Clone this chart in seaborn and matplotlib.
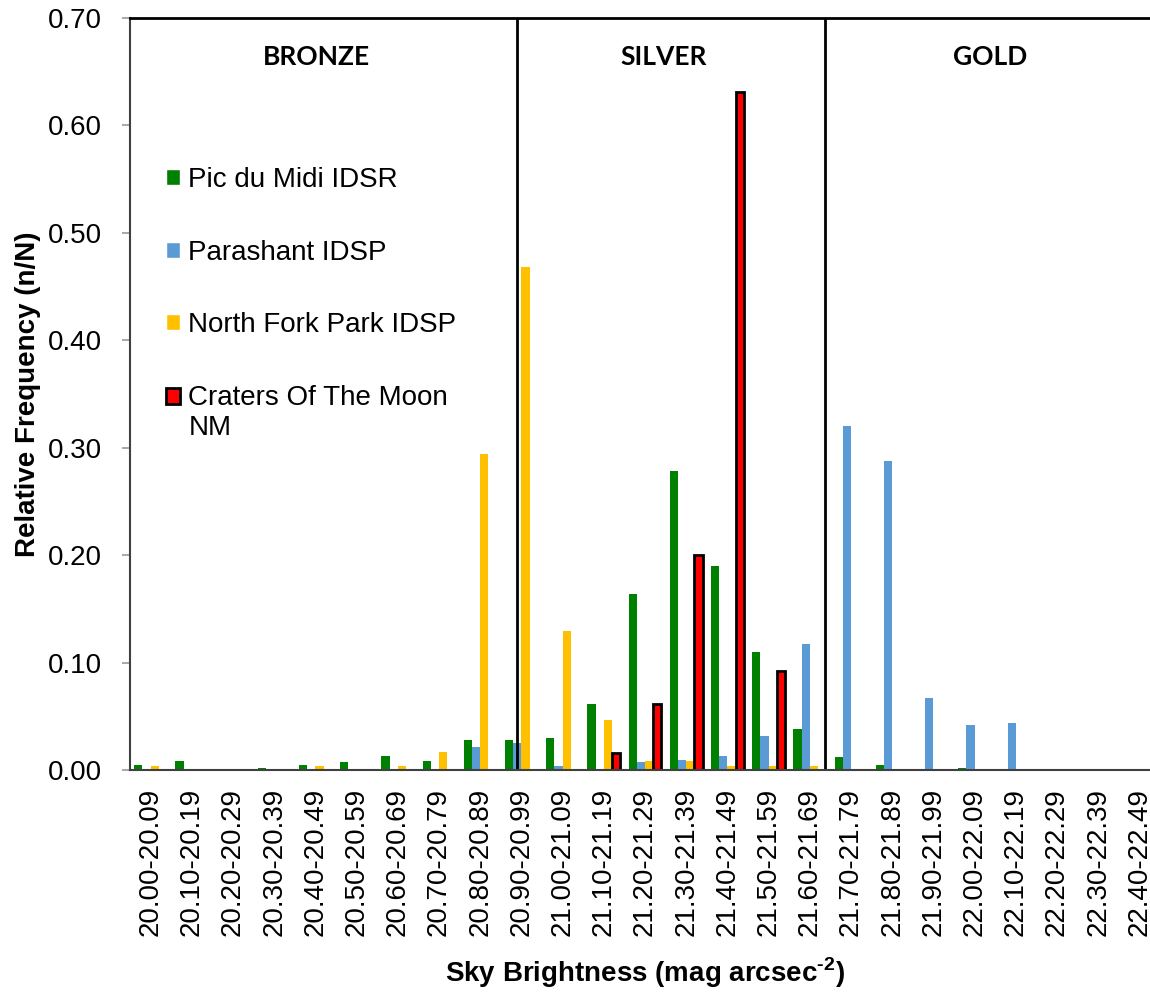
import pandas as pd
import seaborn as sns
import matplotlib.pyplot as plt
from matplotlib.patches import Patch

# sky brightness bins
categories = ['20.00-20.09', '20.10-20.19', '20.20-20.29', '20.30-20.39', '20.40-20.49',
              '20.50-20.59', '20.60-20.69', '20.70-20.79', '20.80-20.89', '20.90-20.99',
              '21.00-21.09', '21.10-21.19', '21.20-21.29', '21.30-21.39', '21.40-21.49',
              '21.50-21.59', '21.60-21.69', '21.70-21.79', '21.80-21.89', '21.90-21.99',
              '22.00-22.09', '22.10-22.19', '22.20-22.29', '22.30-22.39', '22.40-22.49']

# relative frequency per site
pic_du_midi = [0.005, 0.008, 0.0, 0.002, 0.005, 0.007, 0.013, 0.008, 0.028, 0.028,
               0.030, 0.061, 0.164, 0.278, 0.190, 0.110, 0.038, 0.012, 0.005, 0.0,
               0.002, 0.0, 0.0, 0.0, 0.0]
parashant = [0.0, 0.0, 0.0, 0.0, 0.0, 0.0, 0.0, 0.0, 0.021, 0.025,
             0.004, 0.001, 0.007, 0.009, 0.013, 0.032, 0.117, 0.320, 0.288, 0.067,
             0.042, 0.044, 0.001, 0.0, 0.0]
north_fork = [0.004, 0.0, 0.0, 0.0, 0.004, 0.0, 0.004, 0.017, 0.294, 0.468,
              0.129, 0.047, 0.008, 0.008, 0.004, 0.004, 0.004, 0.0, 0.0, 0.0,
              0.0, 0.0, 0.0, 0.0, 0.0]
craters = [0.0, 0.0, 0.0, 0.0, 0.0, 0.0, 0.0, 0.0, 0.0, 0.0,
           0.0, 0.016, 0.061, 0.200, 0.631, 0.092, 0.0, 0.0, 0.0, 0.0,
           0.0, 0.0, 0.0, 0.0, 0.0]

series_names = ['Pic du Midi IDSR', 'Parashant IDSP', 'North Fork Park IDSP', 'Craters Of The Moon NM']
colors = ['#008000', '#5B9BD5', '#FFC000', '#FF0000']

rows = []
for name, vals in zip(series_names, [pic_du_midi, parashant, north_fork, craters]):
    for cat, v in zip(categories, vals):
        rows.append({'bin': cat, 'site': name, 'freq': v})
df = pd.DataFrame(rows)

sns.set_style('white')
plt.rcParams['font.family'] = ['Liberation Sans', 'DejaVu Sans']
plt.rcParams['text.color'] = 'black'
plt.rcParams['axes.labelcolor'] = 'black'
plt.rcParams['mathtext.fontset'] = 'custom'
plt.rcParams['mathtext.rm'] = 'Liberation Sans:bold'
plt.rcParams['mathtext.bf'] = 'Liberation Sans:bold'

fig = plt.figure(figsize=(11.5, 9.94), dpi=100)
ax = fig.add_axes([130 / 1150, 224 / 994, 1030 / 1150, 752 / 994])

sns.barplot(data=df, x='bin', y='freq', hue='site', order=categories,
            hue_order=series_names, palette=dict(zip(series_names, colors)),
            width=0.8, errorbar=None, linewidth=0, saturation=1, ax=ax)

# black outline on the Craters bars
for bar in ax.containers[3]:
    if bar.get_height() > 0:
        bar.set_edgecolor('black')
        bar.set_linewidth(2)

ax.set_ylim(0, 0.70)
ax.set_xlim(-0.5, len(categories) - 0.5)
ax.set_yticks([0.0, 0.1, 0.2, 0.3, 0.4, 0.5, 0.6, 0.7])
ax.set_yticklabels(['%.2f' % t for t in ax.get_yticks()], fontsize=20)
ax.set_xticks(range(len(categories)))
ax.set_xticklabels(categories, rotation=90, fontsize=20)
ax.set_xticks([i - 0.5 for i in range(len(categories) + 1)], minor=True)
ax.tick_params(axis='x', which='major', length=0, pad=13, labelcolor='black')
ax.tick_params(axis='x', which='minor', length=6, color='#999999', width=1.2, direction='out')
ax.tick_params(axis='y', length=6, color='#999999', width=1.2, direction='out', pad=14,
               left=True, labelcolor='black')

ax.spines['right'].set_visible(False)
ax.spines['top'].set_color('black')
ax.spines['top'].set_linewidth(2)
ax.spines['left'].set_color('#404040')
ax.spines['left'].set_linewidth(1.5)
ax.spines['bottom'].set_color('#404040')
ax.spines['bottom'].set_linewidth(1.5)

# class boundaries
for xb in [8.9, 16.37]:
    ax.axvline(xb, color='black', lw=2)

ax.text(4.02, 0.664, 'BRONZE', ha='center', va='center', fontsize=19,
        fontweight='bold', family='Lato')
ax.text(12.46, 0.664, 'SILVER', ha='center', va='center', fontsize=19,
        fontweight='bold', family='Lato')
ax.text(20.38, 0.664, 'GOLD', ha='center', va='center', fontsize=19,
        fontweight='bold', family='Lato')

ax.set_ylabel('Relative Frequency (n/N)', fontsize=20, fontweight='bold', labelpad=5)
ax.set_xlabel(r'Sky Brightness (mag arcsec$^{\text{-2}}$)', fontsize=20,
              fontweight='bold', labelpad=14)

handles = [Patch(facecolor=colors[0]), Patch(facecolor=colors[1]),
           Patch(facecolor=colors[2]), Patch(facecolor=colors[3], edgecolor='black', linewidth=2)]
labels = ['Pic du Midi IDSR', 'Parashant IDSP', 'North Fork Park IDSP', 'Craters Of The Moon\nNM']
leg = ax.legend(handles, labels, loc='upper left', bbox_to_anchor=(0.035, 0.802),
                frameon=False, fontsize=20, handlelength=0.5, handleheight=0.5,
                handletextpad=0.3, labelspacing=1.68, borderpad=0, borderaxespad=0)
# put the Craters marker level with the first line of its label
h = leg.legend_handles[3]
h.set_y(h.get_y() + 12)

plt.savefig('out.png', dpi=100)
plt.close()
